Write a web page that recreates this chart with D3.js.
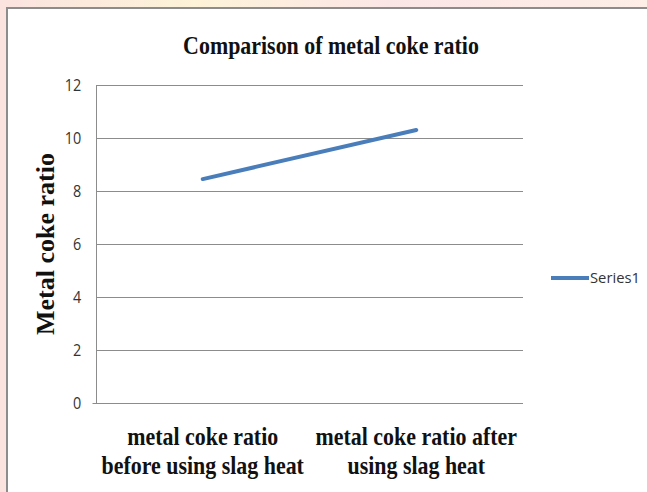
<!DOCTYPE html>
<html>
<head>
<meta charset="utf-8">
<script src="https://cdn.jsdelivr.net/npm/d3@7"></script>
<style>
  body { margin: 0; background: #fff; }
  svg { display: block; }
</style>
</head>
<body>
<svg id="chart" width="647" height="492"></svg>
<script>
// chart data
var categories = ["metal coke ratio before using slag heat", "metal coke ratio after using slag heat"];
var catLines = [["metal coke ratio", "before using slag heat"], ["metal coke ratio after", "using slag heat"]];
var series1 = [8.45, 10.3];
var yTicks = [0, 2, 4, 6, 8, 10, 12];

var svg = d3.select("#chart");

// faint watermark colours round the frame
var defs = svg.append("defs");
var grad = defs.append("linearGradient").attr("id", "wm").attr("x1", 0).attr("x2", 1).attr("y1", 0).attr("y2", 0);
grad.append("stop").attr("offset", "0%").attr("stop-color", "#fbe3e0");
grad.append("stop").attr("offset", "30%").attr("stop-color", "#fdf3d8");
grad.append("stop").attr("offset", "60%").attr("stop-color", "#fbe6e6");
grad.append("stop").attr("offset", "100%").attr("stop-color", "#fdeee6");
svg.append("rect").attr("width", 647).attr("height", 492).attr("fill", "url(#wm)");

// chart frame (runs off the right and bottom edges)
svg.append("rect")
	.attr("x", 7).attr("y", 8)
	.attr("width", 660).attr("height", 500)
	.attr("fill", "#fff")
	.attr("stroke", "#8c8c8c")
	.attr("stroke-width", 2);

var plotLeft = 96, plotRight = 523, plotTop = 85, plotBottom = 403;
var serif = "'Liberation Serif', 'Times New Roman', serif";

var x = d3.scaleBand().domain(categories).range([plotLeft, plotRight]);
var y = d3.scaleLinear().domain([0, 12]).range([plotBottom, plotTop]);

// gridlines
svg.append("g")
	.selectAll("line")
	.data(yTicks)
	.join("line")
	.attr("x1", plotLeft).attr("x2", plotRight)
	.attr("y1", function(d) { return y(d) + 0.5; })
	.attr("y2", function(d) { return y(d) + 0.5; })
	.attr("stroke", "#8c8c8c")
	.attr("stroke-width", 1);

// y axis
var yAxis = svg.append("g")
	.attr("transform", "translate(" + (plotLeft + 0.5) + ",0)")
	.call(d3.axisLeft(y).tickValues(yTicks).tickSize(0).tickPadding(9));
yAxis.select(".domain").attr("stroke", "#8c8c8c").attr("d", "M-4," + (plotBottom + 0.5) + "H0V" + (plotTop + 0.5));
yAxis.selectAll(".tick text")
	.attr("font-family", "'Open Sans', sans-serif")
	.attr("font-size", 16)
	.attr("fill", "#333")
	.attr("transform", "scale(0.9,1)")
	.attr("dx", -8);

// x category labels (tall, narrow serif like the original)
svg.append("g")
	.selectAll("text")
	.data(categories)
	.join("text")
	.attr("transform", function(d) { return "translate(" + (x(d) + x.bandwidth() / 2) + ",445) scale(0.86,1)"; })
	.attr("text-anchor", "middle")
	.attr("font-family", serif)
	.attr("font-weight", "bold")
	.attr("font-size", 25.5)
	.attr("fill", "#111")
	.each(function(d, i) {
		var t = d3.select(this);
		catLines[i].forEach(function(s, j) {
			t.append("tspan")
				.attr("x", 0)
				.attr("dy", j === 0 ? 0 : 29)
				.text(s);
		});
	});

// series line
var line = d3.line()
	.x(function(d, i) { return x(categories[i]) + x.bandwidth() / 2; })
	.y(function(d) { return y(d); });

svg.append("path")
	.datum(series1)
	.attr("d", line)
	.attr("fill", "none")
	.attr("stroke", "#4a7ebb")
	.attr("stroke-width", 4)
	.attr("stroke-linecap", "round");

// title
svg.append("text")
	.attr("transform", "translate(331,54) scale(0.86,1)")
	.attr("text-anchor", "middle")
	.attr("font-family", serif)
	.attr("font-weight", "bold")
	.attr("font-size", 25.5)
	.attr("fill", "#111")
	.text("Comparison of metal coke ratio");

// y axis title
svg.append("text")
	.attr("transform", "translate(54,244) rotate(-90)")
	.attr("text-anchor", "middle")
	.attr("font-family", serif)
	.attr("font-weight", "bold")
	.attr("font-size", 26)
	.attr("fill", "#111")
	.text("Metal coke ratio");

// legend
var lg = svg.append("g").attr("transform", "translate(551,278)");
lg.append("line")
	.attr("x1", 0).attr("x2", 38)
	.attr("stroke", "#4a7ebb").attr("stroke-width", 4);
lg.append("text")
	.attr("x", 39).attr("y", 5)
	.attr("font-family", "'Open Sans', sans-serif")
	.attr("font-size", 15)
	.attr("fill", "#333")
	.attr("textLength", 50)
	.attr("lengthAdjust", "spacingAndGlyphs")
	.text("Series1");
</script>
</body>
</html>
